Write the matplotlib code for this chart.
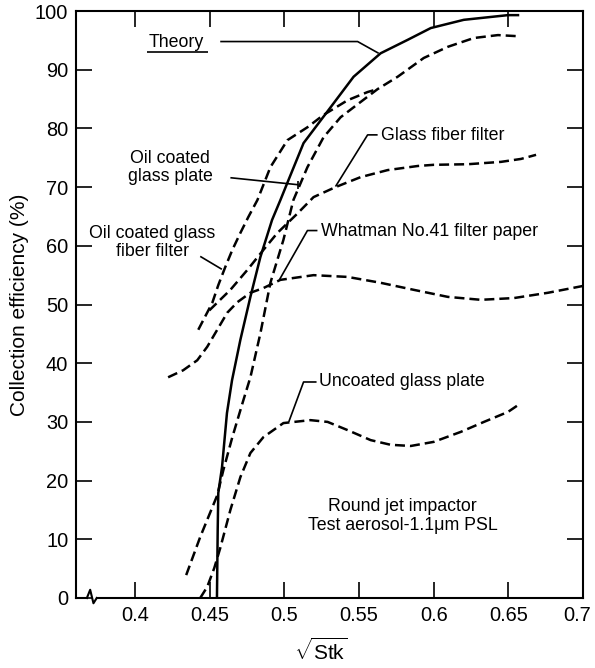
import matplotlib
matplotlib.use('Agg')
import matplotlib.pyplot as plt
import matplotlib.transforms as mtransforms
from matplotlib.ticker import FixedLocator, FixedFormatter

plt.rcParams['font.family'] = ['Liberation Sans', 'DejaVu Sans']
plt.rcParams['mathtext.fontset'] = 'custom'
plt.rcParams['mathtext.rm'] = 'Liberation Sans'
plt.rcParams['mathtext.sf'] = 'Liberation Sans'

# sqrt(Stk) vs collection efficiency (%)
theory_x = [0.4548, 0.4553, 0.4557, 0.4582, 0.4615, 0.4649, 0.4705, 0.4772, 0.4839,
            0.4917, 0.4973, 0.5027, 0.5128, 0.5309, 0.5463, 0.5644, 0.5826, 0.5980,
            0.6201, 0.6497, 0.6564]
theory_y = [0.0, 11.6, 17.9, 22.3, 31.5, 37.1, 44.0, 51.3, 58.1,
            64.4, 67.8, 71.2, 77.5, 83.6, 88.8, 92.8, 95.1, 97.1,
            98.5, 99.3, 99.3]

plate_x = [0.4342, 0.4436, 0.4550, 0.4591, 0.4651, 0.4725, 0.4772, 0.4839, 0.4906,
           0.4993, 0.5060, 0.5154, 0.5262, 0.5376, 0.5510, 0.5624, 0.5758, 0.5933,
           0.6094, 0.6268, 0.6430, 0.6570]
plate_y = [3.9, 10.4, 17.5, 21.8, 27.4, 33.7, 37.6, 45.1, 53.7,
           61.0, 67.8, 73.4, 78.5, 81.9, 84.5, 86.7, 88.8, 92.0,
           93.9, 95.4, 95.9, 95.7]

oil_fiber_x = [0.4423, 0.4517, 0.4557, 0.4604, 0.4651, 0.4705, 0.4758, 0.4819,
               0.4906, 0.5020, 0.5154, 0.5262, 0.5423, 0.5557, 0.5624]
oil_fiber_y = [45.7, 50.3, 53.3, 56.4, 59.3, 62.2, 64.9, 67.8,
               73.4, 78.0, 80.2, 82.3, 84.8, 86.2, 86.7]

glass_fiber_x = [0.4497, 0.4638, 0.4752, 0.4859, 0.4953, 0.5087, 0.5195, 0.5342,
                 0.5510, 0.5691, 0.5893, 0.6000, 0.6228, 0.6450, 0.6584, 0.6685]
glass_fiber_y = [49.0, 52.5, 55.9, 59.3, 62.2, 65.5, 68.3, 70.0,
                 71.7, 72.9, 73.6, 73.8, 73.9, 74.3, 74.8, 75.5]

whatman_x = [0.4221, 0.4322, 0.4416, 0.4483, 0.4550, 0.4617, 0.4685, 0.4772, 0.4859,
             0.4973, 0.5195, 0.5423, 0.5644, 0.5866, 0.6094, 0.6315, 0.6537, 0.6765,
             0.7007]
whatman_y = [37.6, 38.8, 40.5, 42.8, 45.7, 48.6, 50.4, 52.0, 52.8,
             54.2, 55.0, 54.7, 53.7, 52.5, 51.3, 50.8, 51.1, 52.0,
             53.2]

uncoated_x = [0.4436, 0.4483, 0.4530, 0.4570, 0.4638, 0.4705, 0.4772, 0.4859, 0.4993,
              0.5174, 0.5289, 0.5423, 0.5577, 0.5711, 0.5846, 0.6000, 0.6181, 0.6336,
              0.6497, 0.6584]
uncoated_y = [0.0, 1.9, 5.1, 8.5, 15.0, 20.6, 24.7, 27.4, 29.8,
              30.3, 30.0, 28.6, 26.9, 26.1, 25.9, 26.6, 28.3, 30.0,
              31.7, 33.2]

x_ticks = [0.4, 0.45, 0.5, 0.55, 0.6, 0.65, 0.7]
x_tick_labels = ['0.4', '0.45', '0.5', '0.55', '0.6', '0.65', '0.7']
y_ticks = [0, 10, 20, 30, 40, 50, 60, 70, 80, 90, 100]

fig = plt.figure(figsize=(5.95, 6.68), dpi=100)
ax = fig.add_axes([0.1277, 0.1048, 0.8523, 0.8787])

lw = 1.8
dash = (0, (4, 2))
curve = dict(color='black', lw=lw, solid_joinstyle='round', dash_joinstyle='round')
ax.plot(theory_x, theory_y, **curve)
ax.plot(plate_x, plate_y, ls=dash, **curve)
ax.plot(oil_fiber_x, oil_fiber_y, ls=dash, **curve)
ax.plot(glass_fiber_x, glass_fiber_y, ls=dash, **curve)
ax.plot(whatman_x, whatman_y, ls=dash, clip_on=False, **curve)
ax.plot(uncoated_x, uncoated_y, ls=dash, **curve)

# labels with leader lines
fs = 12.8
lead = dict(color='black', lw=1.2, solid_capstyle='butt')

ax.text(0.4275, 94.7, 'Theory', fontsize=fs, ha='center', va='center')
ax.plot([0.4081, 0.4490], [93.0, 93.0], **lead)
ax.plot([0.4570, 0.5490, 0.5631], [94.8, 94.8, 92.8], **lead)

ax.text(0.4235, 73.3, 'Oil coated\nglass plate', fontsize=fs, ha='center', va='center',
        linespacing=1.05)
ax.plot([0.4638, 0.5094], [71.6, 70.4], **lead)
ax.plot([0.5094, 0.5094], [71.1, 69.7], **lead)

ax.text(0.4114, 60.6, 'Oil coated glass\nfiber filter', fontsize=fs, ha='center',
        va='center', linespacing=1.05)
ax.plot([0.4436, 0.4581], [58.2, 56.0], **lead)

ax.text(0.5644, 78.8, 'Glass fiber filter', fontsize=fs, ha='left', va='center')
ax.plot([0.5624, 0.5557, 0.5342], [78.9, 78.9, 70.1], **lead)

ax.text(0.5242, 62.5, 'Whatman No.41 filter paper', fontsize=fs, ha='left', va='center')
ax.plot([0.5221, 0.5154, 0.4966], [62.6, 62.6, 54.2], **lead)

ax.text(0.5229, 36.8, 'Uncoated glass plate', fontsize=fs, ha='left', va='center')
ax.plot([0.5215, 0.5128, 0.5029], [36.8, 36.8, 30.0], **lead)

ax.text(0.5792, 14.0, 'Round jet impactor\nTest aerosol-1.1\u03bcm PSL', fontsize=fs,
        ha='center', va='center', linespacing=1.2)

ax.set_xlim(0.3604, 0.7)
ax.set_ylim(0, 100)
ax.xaxis.set_major_locator(FixedLocator(x_ticks))
ax.xaxis.set_major_formatter(FixedFormatter(x_tick_labels))
ax.yaxis.set_major_locator(FixedLocator(y_ticks))
ax.tick_params(direction='in', length=11.5, width=1.2, labelsize=14.4,
               top=True, right=True, pad=5.5)
for s in ax.spines.values():
    s.set_linewidth(1.5)

# keep the last x label inside the figure
fig.canvas.draw()
last = ax.get_xticklabels()[-1]
last.set_transform(last.get_transform() +
                   mtransforms.ScaledTranslation(-4 / 72, 0, fig.dpi_scale_trans))

# axis break on the x axis
ax.spines['bottom'].set_visible(False)
xb = 0.3710
ax.plot([0.3604, xb - 0.0033], [0, 0], color='black', lw=1.5, clip_on=False)
ax.plot([xb - 0.0033, xb - 0.0011, xb + 0.0011, xb + 0.0033],
        [0, 1.4, -0.9, 0], color='black', lw=1.5, clip_on=False,
        solid_joinstyle='round')
ax.plot([xb + 0.0033, 0.7], [0, 0], color='black', lw=1.5, clip_on=False)

ax.set_ylabel('Collection efficiency (%)', fontsize=15, labelpad=4)
ax.set_xlabel(r'$\sqrt{\mathsf{Stk}}$', fontsize=15, labelpad=8)
ax.xaxis.set_label_coords(0.483, -0.067)

fig.savefig('out.png', dpi=100)
